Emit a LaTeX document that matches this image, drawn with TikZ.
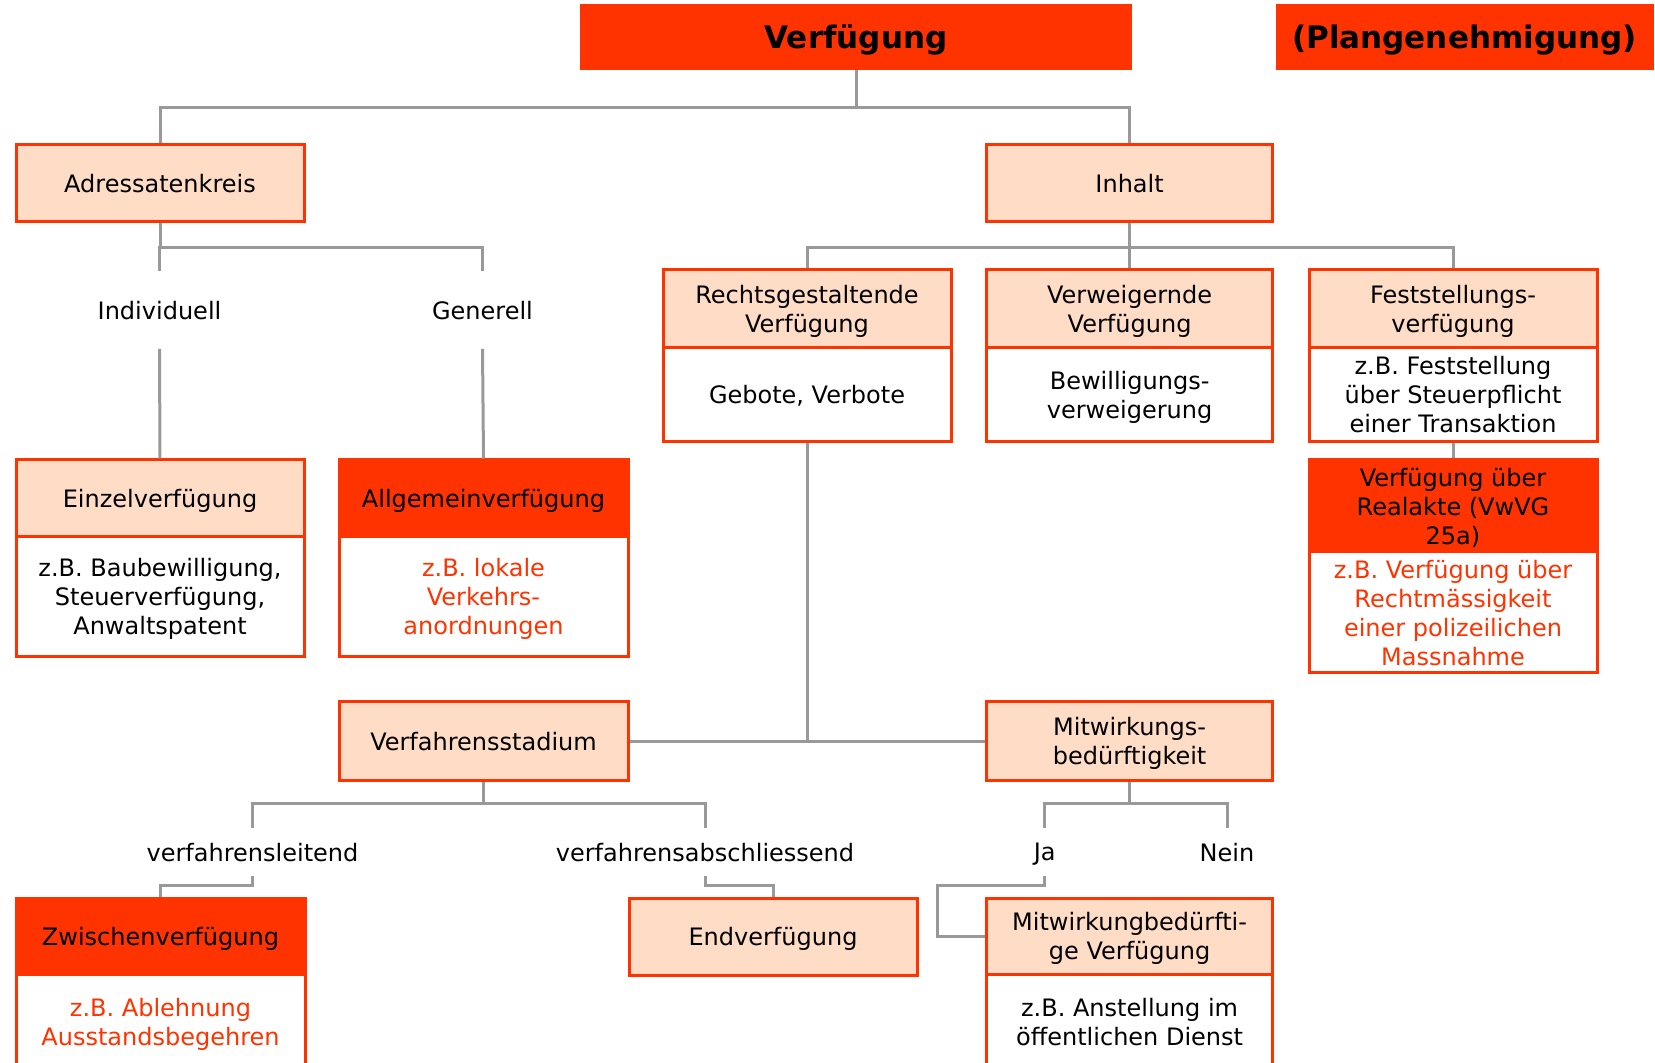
\documentclass[tikz,border=0pt]{standalone}
\usepackage{fontspec}
\setmainfont{DejaVu Sans}
\definecolor{vfred}{RGB}{255,51,0}
\definecolor{vfpeach}{RGB}{255,220,198}
\definecolor{vfgrey}{RGB}{153,153,153}

\begin{document}
\begin{tikzpicture}[x=0.5pt,y=-0.5pt,
  box/.style={draw=vfred,line width=1.5pt,fill=vfpeach,inner sep=0pt,align=center,text depth=0pt,font=\fontsize{12}{14.5}\selectfont},
  hot/.style={box,fill=vfred},
  plain/.style={box,fill=white},
  redtext/.style={plain,text=vfred},
  title/.style={hot,font=\bfseries\fontsize{15.5}{18}\selectfont},
  branch/.style={inner sep=0pt,align=center,text depth=0pt,font=\fontsize{12}{14.5}\selectfont},
  conn/.style={draw=vfgrey,line width=1.5pt}]
\useasboundingbox (0,0) rectangle (1655,1063);
\clip (0,0) rectangle (1655,1063);
% top row
\node[title,minimum width=274.5pt,minimum height=31.7pt] (verf) at (856,37) {Verfügung};
\node[title,minimum width=187.5pt,minimum height=31.7pt] (plan) at (1464.5,37) {(Plangenehmigung)};
\node[box,minimum width=144pt,minimum height=38.7pt] (adr) at (160,183) {Adressatenkreis};
\node[box,minimum width=143pt,minimum height=38.7pt] (inh) at (1129.6,183) {Inhalt};
% Adressatenkreis
\node[branch,minimum height=38.5pt] (indiv) at (159.5,310) {Individuell};
\node[branch,minimum height=38.5pt] (gen) at (482.5,310) {Generell};
\node[box,minimum width=144pt,minimum height=38.2pt] (ez) at (160,498.2) {Einzelverfügung};
\node[plain,minimum width=144pt,minimum height=60.3pt] (ezb) at (160,596.7) {z.B. Baubewilligung,\\Steuerverfügung,\\Anwaltspatent};
\node[hot,minimum width=144.5pt,minimum height=38.2pt] (av) at (483.5,498.2) {Allgemeinverfügung};
\node[redtext,minimum width=144.5pt,minimum height=60.3pt] (avb) at (483.5,596.7) {z.B. lokale\\Verkehrs-\\anordnungen};
% Inhalt
\node[box,minimum width=144pt,minimum height=38.7pt] (rg) at (807,308.6) {Rechtsgestaltende\\Verfügung};
\node[plain,minimum width=144pt,minimum height=47.2pt] (rgb) at (807,394.5) {Gebote, Verbote};
\node[box,minimum width=143pt,minimum height=38.7pt] (vw) at (1129.6,308.6) {Verweigernde\\Verfügung};
\node[plain,minimum width=143pt,minimum height=47.2pt] (vwb) at (1129.6,394.5) {Bewilligungs-\\verweigerung};
\node[box,minimum width=144pt,minimum height=38.7pt] (fs) at (1453,308.6) {Feststellungs-\\verfügung};
\node[plain,minimum width=144pt,minimum height=47.2pt] (fsb) at (1453,394.5) {z.B. Feststellung\\über Steuerpflicht\\einer Transaktion};
\node[hot,minimum width=144pt,minimum height=46pt] (ra) at (1453,506) {Verfügung über\\Realakte (VwVG\\25a)};
\node[redtext,minimum width=144pt,minimum height=60.5pt] (rab) at (1453,612.5) {z.B. Verfügung über\\Rechtmässigkeit\\einer polizeilichen\\Massnahme};
% Verfahrensstadium / Mitwirkung
\node[box,minimum width=144.5pt,minimum height=39pt] (vst) at (483.5,741) {Verfahrensstadium};
\node[box,minimum width=143pt,minimum height=39pt] (mw) at (1129.6,741) {Mitwirkungs-\\bedürftigkeit};
\node[branch,minimum height=24pt] (leit) at (252.5,852) {verfahrensleitend};
\node[branch,minimum height=24pt] (absch) at (705,852) {verfahrensabschliessend};
\node[branch,minimum height=24pt] (ja) at (1044.7,852) {Ja};
\node[branch,minimum height=24pt] (nein) at (1227,852) {Nein};
\node[hot,minimum width=144.5pt,minimum height=38.2pt] (zw) at (160.5,936.2) {Zwischenverfügung};
\node[redtext,minimum width=144.5pt,minimum height=47.5pt] (zwb) at (160.5,1022) {z.B. Ablehnung\\Ausstandsbegehren};
\node[box,minimum width=144pt,minimum height=38.5pt] (ev) at (773,936.5) {Endverfügung};
\node[box,minimum width=143pt,minimum height=38.2pt] (mb) at (1129.6,936.2) {Mitwirkungbedürfti-\\ge Verfügung};
\node[plain,minimum width=143pt,minimum height=47.5pt] (mbb) at (1129.6,1022) {z.B. Anstellung im\\öffentlichen Dienst};
% connectors
\draw[conn] (verf.south) -- ++(0,37) -| (adr.north);
\draw[conn] (verf.south) -- ++(0,37) -| (inh.north);
\draw[conn] (adr.south) -- ++(0,24.3) -| (indiv.north);
\draw[conn] (adr.south) -- ++(0,24.3) -| (gen.north);
\draw[conn] (indiv.south) -- (ez.north);
\draw[conn] (gen.south) -- (av.north);
\draw[conn] (inh.south) -- ++(0,24.3) -| (rg.north);
\draw[conn] (inh.south) -- (vw.north);
\draw[conn] (inh.south) -- ++(0,24.3) -| (fs.north);
\draw[conn] (fsb.south) -- (ra.north);
\draw[conn] (rgb.south) -- (rgb.south |- vst.east);
\draw[conn] (vst.east) -- (mw.west);
\draw[conn] (vst.south) -- ++(0,21.5) -| (leit.north);
\draw[conn] (vst.south) -- ++(0,21.5) -| (absch.north);
\draw[conn] (mw.south) -- ++(0,21.5) -| (ja.north);
\draw[conn] (mw.south) -- ++(0,21.5) -| (nein.north);
\draw[conn] (leit.south) -- ++(0,9) -| (zw.north);
\draw[conn] (absch.south) -- ++(0,9) -| (ev.north);
\draw[conn] (ja.south) -- ++(0,9) -| ([xshift=-24pt]mb.west) -- (mb.west);
\end{tikzpicture}
\end{document}
